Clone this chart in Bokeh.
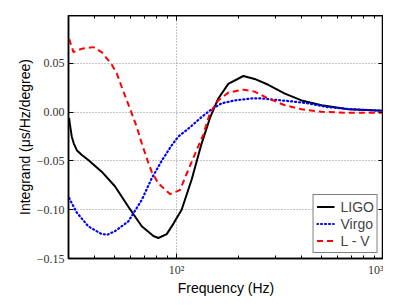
from bokeh.plotting import figure
from bokeh.models import (FixedTicker, LinearAxis, LogAxis, Range1d, Legend, LegendItem)
from bokeh.embed import file_html
from bokeh.resources import INLINE

# ---- data ----
ligo_f = [30.2, 30.5, 31.1, 31.8, 32.9, 34.8, 37.4, 43.4, 50.3, 58.4, 67.8, 77.2, 81.6,
          89.5, 96.7, 105.7, 118.2, 132.1, 144.9, 159.0, 177.7, 210.1, 238.2, 277.3, 333.6,
          401.7, 501.9, 675.3, 1000.0]
ligo_v = [-0.006, -0.013, -0.025, -0.032, -0.039, -0.044, -0.049, -0.061, -0.076, -0.097,
          -0.117, -0.127, -0.129, -0.125, -0.114, -0.100, -0.069, -0.032, -0.006, 0.014,
          0.029, 0.037, 0.034, 0.028, 0.019, 0.012, 0.007, 0.003, 0.0013]

virgo_f = [30.2, 32.9, 37.4, 43.4, 46.4, 50.3, 58.4, 67.8, 75.7, 84.6, 94.6, 101.9, 113.9,
           132.1, 147.6, 165.0, 191.2, 230.3, 257.4, 287.7, 359.3, 432.8, 540.6, 700.5,
           1000.0]
virgo_v = [-0.088, -0.103, -0.117, -0.125, -0.1255, -0.122, -0.112, -0.090, -0.068, -0.050,
           -0.034, -0.025, -0.017, -0.005, 0.003, 0.009, 0.012, 0.014, 0.014, 0.013, 0.011,
           0.009, 0.005, 0.003, 0.0013]

lv_f = [30.2, 31.7, 34.8, 39.6, 43.4, 48.2, 51.3, 54.2, 57.4, 60.6, 64.1, 67.8, 73.0, 75.7,
        81.6, 92.8, 103.7, 113.9, 124.9, 134.6, 144.9, 159.0, 177.7, 210.1, 238.2, 277.3,
        333.6, 401.7, 501.9, 675.3, 1000.0]
lv_v = [0.075, 0.0615, 0.065, 0.0666, 0.0615, 0.0497, 0.040, 0.026, 0.012, -0.001, -0.015,
        -0.032, -0.052, -0.061, -0.073, -0.084, -0.080, -0.059, -0.039, -0.023, -0.001,
        0.012, 0.020, 0.023, 0.021, 0.014, 0.007, 0.003, 0.0003, -0.0007, -0.0007]

y_ticks = [-0.15, -0.10, -0.05, 0.0, 0.05]
y_labels = ["\u22120.15", "\u22120.10", "\u22120.05", "0.00", "0.05"]
x_ticks = [100, 1000]
x_labels = ["10\u00b2", "10\u00b3"]
x_minor = [30, 40, 50, 60, 70, 80, 90, 200, 300, 400, 500, 600, 700, 800, 900]

SERIF = "Liberation Serif"
SANS = "Liberation Sans"

p = figure(frame_width=315, frame_height=243, x_axis_type="log",
           x_range=Range1d(30, 1000), y_range=Range1d(-0.15, 0.099),
           output_backend="svg", toolbar_location=None,
           min_border_left=0, min_border_right=0, min_border_top=0, min_border_bottom=0,
           x_axis_label="Frequency (Hz)", y_axis_label="Integrand (\u03bcs/Hz/degree)")
p.margin = (15, 0, 0, 13)

p.outline_line_color = "black"
p.outline_line_width = 1.5
p.background_fill_color = "white"
p.border_fill_color = "white"

def style(ax, labels=True):
    ax.major_tick_in = 5
    ax.major_tick_out = 0
    ax.minor_tick_in = 3
    ax.minor_tick_out = 0
    ax.axis_line_color = "black"
    ax.axis_line_width = 1.5
    ax.major_tick_line_color = "black"
    ax.minor_tick_line_color = "black"
    ax.major_label_text_font = SERIF
    ax.major_label_text_font_size = "12px"
    ax.major_label_text_color = "#333333"
    ax.axis_label_text_font = SANS
    ax.axis_label_text_font_size = "14px"
    ax.axis_label_text_font_style = "normal"
    ax.axis_label_text_color = "black"
    if not labels:
        ax.major_label_text_font_size = "1px"
        ax.major_label_text_alpha = 0
        ax.major_label_standoff = 0

xa = p.xaxis[0]
xa.ticker = FixedTicker(ticks=x_ticks, minor_ticks=x_minor)
xa.major_label_overrides = {100: x_labels[0], 1000: x_labels[1]}
style(xa)
xa.major_label_standoff = 4
xa.axis_label_standoff = 0

ya = p.yaxis[0]
ya.ticker = FixedTicker(ticks=y_ticks, minor_ticks=[])
ya.major_label_overrides = {t: l for t, l in zip(y_ticks, y_labels)}
style(ya)
ya.major_label_standoff = 4
ya.axis_label_standoff = 1

top = LogAxis(ticker=FixedTicker(ticks=x_ticks, minor_ticks=x_minor))
style(top, labels=False)
p.add_layout(top, "above")
right = LinearAxis(ticker=FixedTicker(ticks=y_ticks, minor_ticks=[]))
style(right, labels=False)
p.add_layout(right, "right")

p.xgrid.ticker = FixedTicker(ticks=[100])
p.ygrid.ticker = FixedTicker(ticks=[-0.10, -0.05, 0.0, 0.05])
for g in (p.xgrid[0], p.ygrid[0]):
    g.grid_line_color = "#8a8a8a"
    g.grid_line_dash = "1 2"
    g.grid_line_width = 1

r1 = p.line(ligo_f, ligo_v, line_color="black", line_width=2)
r2 = p.line(virgo_f, virgo_v, line_color="blue", line_width=2.2, line_dash="1 3", line_cap="round")
r3 = p.line(lv_f, lv_v, line_color="red", line_width=2, line_dash="6 4")

leg = Legend(items=[LegendItem(label="LIGO", renderers=[r1]),
                    LegendItem(label="Virgo", renderers=[r2]),
                    LegendItem(label="L - V", renderers=[r3])],
             location="bottom_right")
leg.label_text_font = SANS
leg.label_text_font_size = "14px"
leg.border_line_color = "black"
leg.border_line_width = 1
leg.background_fill_alpha = 1
leg.margin = 5
leg.padding = 3
leg.spacing = 0
leg.glyph_width = 18
leg.glyph_height = 17
leg.label_height = 17
leg.label_standoff = 6
p.add_layout(leg, "center")

open("out.html", "w").write(file_html(p, INLINE))
